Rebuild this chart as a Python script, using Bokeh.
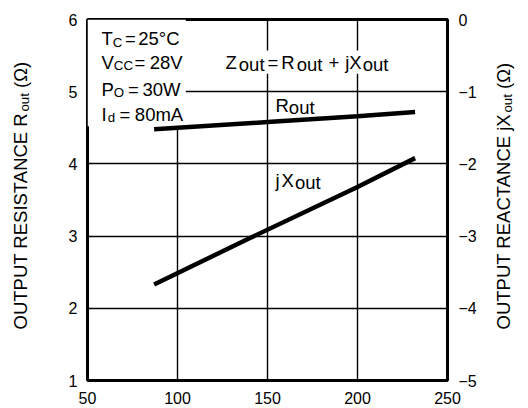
from bokeh.plotting import figure
from bokeh.layouts import row
from bokeh.models import Range1d, LinearAxis, Label, BoxAnnotation, FixedTicker
from bokeh.embed import file_html
from bokeh.resources import INLINE

# ---- data ----
freq_rout = [87, 150, 200, 232]
rout = [4.48, 4.58, 4.66, 4.72]
freq_jx = [87, 140, 200, 232]
jxout = [-3.67, -3.03, -2.32, -1.92]
x_ticks = [50, 100, 150, 200, 250]
rout_ticks = [1, 2, 3, 4, 5, 6]
jx_ticks = [-5, -4, -3, -2, -1, 0]
jx_tick_labels = ["\u22125", "\u22124", "\u22123", "\u22122", "\u22121", "0"]

FONT = "Liberation Sans"
H = 406
LEFT_W, MAIN_W, RIGHT_W = 40, 447, 39

# main frame edges in picture pixels
FL, FR, FT, FB = 87, 447, 19, 383

p = figure(width=MAIN_W, height=H, x_range=Range1d(50, 250), y_range=Range1d(1, 6),
           output_backend="svg", toolbar_location=None,
           min_border_left=FL - LEFT_W, min_border_right=LEFT_W + MAIN_W - FR,
           min_border_top=FT, min_border_bottom=H - FB)
p.extra_y_ranges = {"jx": Range1d(-5, 0)}
p.background_fill_color = "white"
p.border_fill_color = "white"
p.outline_line_color = "black"
p.outline_line_width = 3
p.outline_line_alpha = 1.0

right = LinearAxis(y_range_name="jx", ticker=FixedTicker(ticks=jx_ticks),
                   major_label_overrides={t: l for t, l in zip(jx_ticks, jx_tick_labels)})
p.add_layout(right, "right")

p.xaxis.ticker = FixedTicker(ticks=x_ticks)
p.yaxis[0].ticker = FixedTicker(ticks=rout_ticks)
for ax in [p.xaxis[0], p.yaxis[0], right]:
    ax.axis_line_color = None
    ax.major_tick_line_color = None
    ax.minor_tick_line_color = None
    ax.major_label_text_font = FONT
    ax.major_label_text_font_size = "16px"
    ax.major_label_text_color = "black"
p.xaxis.major_label_standoff = 5
p.yaxis[0].major_label_standoff = 4
right.major_label_standoff = 5

p.xgrid.ticker = FixedTicker(ticks=[100, 150, 200])
p.ygrid.ticker = FixedTicker(ticks=[2, 3, 4, 5])
for g in [p.xgrid[0], p.ygrid[0]]:
    g.grid_line_color = "black"
    g.grid_line_width = 1.4
    g.grid_line_alpha = 1.0

# white areas behind the condition text block and the formula
p.add_layout(BoxAnnotation(left=50, right=104.6, top=6, bottom=4.52,
                           fill_color="white", fill_alpha=1.0, line_color=None,
                           level="underlay"))
p.add_layout(BoxAnnotation(left=125, right=221.7, top=5.57, bottom=5.25,
                           fill_color="white", fill_alpha=1.0, line_color=None,
                           level="underlay"))

p.line(freq_rout, rout, line_width=4.5, line_color="black")
p.line(freq_jx, jxout, y_range_name="jx", line_width=4.5, line_color="black")


def side_fig(w):
    f = figure(width=w, height=H, x_range=Range1d(0, 1), y_range=Range1d(0, 1),
               output_backend="svg", toolbar_location=None,
               min_border=0, min_border_left=0, min_border_right=0,
               min_border_top=0, min_border_bottom=0)
    f.axis.visible = False
    f.grid.visible = False
    f.outline_line_color = None
    f.background_fill_color = "white"
    f.border_fill_color = "white"
    return f


lf = side_fig(LEFT_W)
rf = side_fig(RIGHT_W)

# ---- rich text helper (Arial / Liberation Sans metrics) ----
W = {" ": 278, "(": 333, ")": 333, "+": 584, "=": 584, "\u00b0": 400,
     "A": 667, "C": 722, "E": 667, "I": 278, "N": 722, "O": 778, "P": 667,
     "R": 722, "S": 667, "T": 611, "U": 722, "V": 667, "W": 944, "X": 667,
     "Z": 611, "a": 556, "d": 556, "j": 222, "m": 833, "o": 556, "t": 278,
     "u": 556, "\u03a9": 768}


def tw(s, size):
    return sum(W.get(c, 556) for c in s) / 1000.0 * size


def rich(fig, ox, ob, x, y, pieces, size, angle=0,
         sub_scale=0.72, sub_drop=3.5, low_drop=2.5):
    """pieces: (text, kind, gap_before_px); kind 0 normal, 1 small subscript,
    2 full-size lowered.  x, y: picture pixels of start / baseline;
    ox, ob: picture position of the target frame's left and bottom edges."""
    pos = 0.0
    for txt, kind, gap in pieces:
        s = size * sub_scale if kind == 1 else size
        pos += gap
        drop = sub_drop if kind == 1 else (low_drop if kind == 2 else 0.0)
        if angle == 0:
            px, py = x + pos, y + drop
        else:
            px, py = x + drop, y - pos
        fig.add_layout(Label(x=px - ox, y=ob - py, x_units="screen", y_units="screen",
                             text=txt, text_font=FONT, text_font_size=f"{s:.1f}px",
                             text_color="black", text_align="left",
                             text_baseline="alphabetic", angle=angle, angle_units="deg"))
        pos += tw(txt, s)


S = 18.5
# condition block
rich(p, FL, FB, 101, 41, [("T", 0, 0), ("C", 1, 0), ("=", 0, 2.5), ("25\u00b0C", 0, 2.5)], S)
rich(p, FL, FB, 101, 64.5, [("V", 0, 0), ("CC", 1, 0), ("=", 0, 1.5), ("28V", 0, 4.3)], S)
rich(p, FL, FB, 101, 91.5, [("P", 0, 0), ("O", 1, 0), ("=", 0, 3.7), ("30W", 0, 3.8)], S)
rich(p, FL, FB, 101, 116.5, [("I", 0, 0), ("d", 1, 1), ("=", 0, 4.5), ("80mA", 0, 4.5)], S)

# formula and curve labels
rich(p, FL, FB, 225, 64.5, [("Z", 0, 0), ("out", 2, 2), ("=", 0, 3), ("R", 0, 3), ("out", 2, 2),
                            ("+", 0, 6), ("jX", 0, 6), ("out", 2, 1)], S)
rich(p, FL, FB, 275, 107.5, [("R", 0, 0), ("out", 2, 0)], S)
rich(p, FL, FB, 275, 182.5, [("j", 0, 0), ("X", 0, 2), ("out", 2, 1)], S)

# axis titles (in their own side panels)
rich(lf, 0, H, 20, 355, [("OUTPUT RESISTANCE R", 0, 0), ("out", 1, 0), ("(\u03a9)", 0, 5.1)],
     18.5, angle=90)
rich(rf, LEFT_W + MAIN_W, H, 503, 355,
     [("OUTPUT REACTANCE jX", 0, 0), ("out", 1, 0), ("(\u03a9)", 0, 5.1)], 18.5, angle=90)

layout = row(lf, p, rf)
open("out.html", "w").write(file_html(layout, INLINE))
